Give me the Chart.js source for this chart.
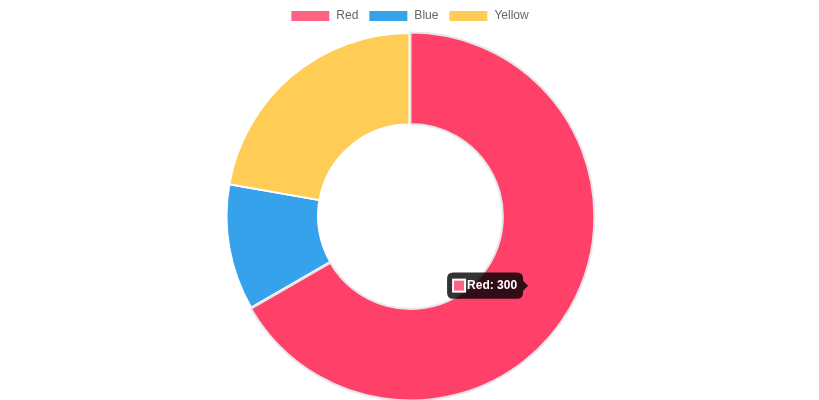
<!DOCTYPE html>
<html>
<head>
<meta charset="utf-8">
<script src="https://cdn.jsdelivr.net/npm/chart.js"></script>
<style>
  html, body { margin: 0; padding: 0; background: #fff; }
  .wrap { width: 819px; height: 400px; }
</style>
</head>
<body>
<div class="wrap"><canvas id="myChart"></canvas></div>
<script>
let labels = ['Red', 'Blue', 'Yellow'];
let values = [300, 50, 100];
let colors = ['rgb(255, 99, 132)', 'rgb(54, 162, 235)', 'rgb(255, 205, 86)'];

Chart.defaults.font.family = 'Arial, "Liberation Sans", sans-serif';
Chart.defaults.color = '#666';

let ctx = document.getElementById('myChart');
let chart = new Chart(ctx, {
  type: 'doughnut',
  data: {
    labels: labels,
    datasets: [{
      data: values,
      backgroundColor: colors,
      hoverOffset: 4
    }]
  },
  options: {
    responsive: true,
    maintainAspectRatio: false,
    animation: false,
    plugins: {
      legend: {
        labels: { boxWidth: 40, font: { size: 12 } }
      },
      tooltip: {
        bodyFont: { weight: 'bold' },
        callbacks: {
          title: function() { return ''; },
          label: function(item) { return item.label + ': ' + item.formattedValue; }
        }
      }
    }
  }
});

// show the hovered state of the red slice
let arc = chart.getDatasetMeta(0).data[0];
let pos = arc.tooltipPosition();
chart.setActiveElements([{ datasetIndex: 0, index: 0 }]);
chart.tooltip.setActiveElements([{ datasetIndex: 0, index: 0 }], pos);
chart.update();
</script>
</body>
</html>
